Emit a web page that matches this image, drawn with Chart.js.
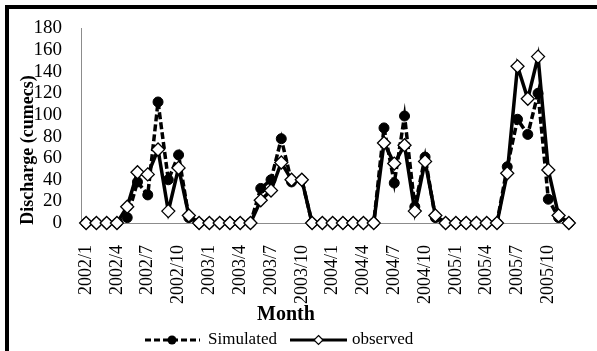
<!DOCTYPE html>
<html>
<head>
<meta charset="utf-8">
<script src="https://cdn.jsdelivr.net/npm/chart.js@4"></script>
<style>
html,body{margin:0;padding:0;background:#fff;}
#wrap{position:relative;width:597px;height:351px;}
</style>
</head>
<body>
<div id="wrap"><canvas id="c" width="597" height="351"></canvas></div>
<script>
const years = [2002, 2003, 2004, 2005];
const months = [1,2,3,4,5,6,7,8,9,10,11,12];
const categories = [];
years.forEach(y => months.forEach(m => categories.push(y + '/' + m)));

const simulated = [
  0, 0, 0, 0, 5, 38, 26, 112, 40, 63, 5, 0,
  0, 0, 0, 0, 0, 32, 40, 78, 38, 40, 0, 0,
  0, 0, 0, 0, 0, 88, 37, 99, 15, 61, 5, 0,
  0, 0, 0, 0, 0, 52, 96, 82, 120, 22, 5, 0
];
const observed = [
  0, 0, 0, 0, 15, 47, 45, 68, 11, 51, 7, 0,
  0, 0, 0, 0, 0, 21, 30, 56, 40, 40, 0, 0,
  0, 0, 0, 0, 0, 74, 55, 72, 11, 57, 7, 0,
  0, 0, 0, 0, 0, 46, 145, 115, 154, 49, 7, 0
];
const yTicks = [0, 20, 40, 60, 80, 100, 120, 140, 160, 180];
const seriesNames = ['Simulated', 'observed'];
const xTitle = 'Month';
const yTitle = 'Discharge (cumecs)';

const SERIF = '"Liberation Serif", "Times New Roman", serif';

const decor = {
  id: 'decor',
  afterDraw(chart) {
    const ctx = chart.ctx;
    ctx.save();
    ctx.fillStyle = '#000';
    ctx.fillRect(5, 5, 592, 4);
    ctx.fillRect(5, 5, 4, 346);
    ctx.font = 'bold 20px ' + SERIF;
    ctx.textAlign = 'center';
    ctx.textBaseline = 'middle';
    ctx.fillText(xTitle, 286, 315);
    ctx.save();
    ctx.translate(28, 150);
    ctx.rotate(-Math.PI / 2);
    ctx.font = 'bold 18px ' + SERIF;
    ctx.fillText(yTitle, 0, 0);
    ctx.restore();
    const ly = 340;
    ctx.font = '17px ' + SERIF;
    ctx.textAlign = 'left';
    ctx.strokeStyle = '#000';
    ctx.lineWidth = 3;
    ctx.setLineDash([6, 3]);
    ctx.beginPath(); ctx.moveTo(145, ly); ctx.lineTo(200, ly); ctx.stroke();
    ctx.setLineDash([]);
    ctx.beginPath(); ctx.arc(172, ly, 4.5, 0, Math.PI * 2); ctx.fillStyle = '#000'; ctx.fill();
    ctx.fillText(seriesNames[0], 208, ly);
    ctx.beginPath(); ctx.moveTo(290, ly); ctx.lineTo(347, ly); ctx.stroke();
    ctx.beginPath();
    ctx.moveTo(318.5, ly - 4.5); ctx.lineTo(323, ly); ctx.lineTo(318.5, ly + 4.5); ctx.lineTo(314, ly); ctx.closePath();
    ctx.fillStyle = '#fff'; ctx.fill(); ctx.lineWidth = 1.2; ctx.stroke();
    ctx.fillStyle = '#000';
    ctx.fillText(seriesNames[1], 352, ly);
    ctx.restore();
  }
};

new Chart(document.getElementById('c'), {
  type: 'line',
  data: {
    labels: categories,
    datasets: [
      {
        label: seriesNames[0],
        data: simulated,
        borderColor: '#000',
        backgroundColor: '#000',
        borderWidth: 3.5,
        borderDash: [7, 3],
        pointStyle: 'circle',
        pointRadius: 5,
        pointBackgroundColor: '#000',
        pointBorderColor: '#000',
        pointBorderWidth: 1,
        tension: 0,
        order: 2,
        clip: false
      },
      {
        label: seriesNames[1],
        data: observed,
        borderColor: '#000',
        backgroundColor: '#fff',
        borderWidth: 3.5,
        pointStyle: 'rectRot',
        pointRadius: 6.5,
        pointBackgroundColor: '#fff',
        pointBorderColor: '#000',
        pointBorderWidth: 1.3,
        tension: 0,
        order: 1,
        clip: false
      }
    ]
  },
  options: {
    responsive: false,
    animation: false,
    devicePixelRatio: 1,
    layout: { padding: { top: 16, right: 23, left: 0, bottom: 0 } },
    plugins: {
      legend: { display: false },
      title: { display: false },
      tooltip: { enabled: false }
    },
    scales: {
      x: {
        type: 'category',
        offset: true,
        grid: { display: false, drawTicks: false },
        border: { display: true, color: '#8c8c8c', width: 1 },
        ticks: {
          autoSkip: false,
          minRotation: 90,
          maxRotation: 90,
          padding: 22,
          color: '#000',
          font: { family: SERIF, size: 18 },
          callback: function (v, i) { return i % 3 === 0 ? categories[i] : ''; }
        },
        afterFit: s => { s.height = 128; s.paddingLeft = 0; s.paddingRight = 0; }
      },
      y: {
        min: 0,
        max: 180,
        grid: { display: false, drawTicks: false },
        border: { display: true, color: '#8c8c8c', width: 1 },
        afterBuildTicks: s => { s.ticks = yTicks.map(v => ({ value: v })); },
        ticks: {
          autoSkip: false,
          padding: 19,
          color: '#000',
          font: { family: SERIF, size: 19, lineHeight: 1 }
        },
        afterFit: s => { s.width = 81; }
      }
    }
  },
  plugins: [decor]
});
</script>
</body>
</html>
